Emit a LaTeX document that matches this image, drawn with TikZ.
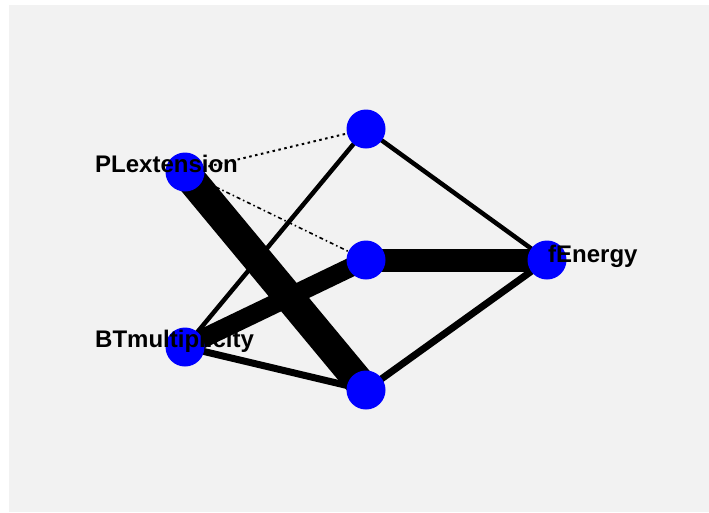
\documentclass[tikz,border=0pt]{standalone}
\usepackage{fontspec}
\setmainfont{Liberation Sans}
\pgfdeclarelayer{bglayer}
\pgfdeclarelayer{edgelayer}
\pgfsetlayers{bglayer,edgelayer,main}
\definecolor{panel}{HTML}{F2F2F2}
\definecolor{nodeblue}{HTML}{0000FF}
\tikzset{
  vtx/.style={circle, fill=nodeblue, draw=none, minimum size=39pt, inner sep=0pt},
  lbl/.style={anchor=base west, inner sep=0pt, font=\fontsize{24}{24}\selectfont\bfseries},
  edge/.style={draw=black, line cap=butt},
  dotline/.style={edge, line width=2pt, dash pattern=on 2.5pt off 3.5pt},
  dashdotline/.style={edge, line width=1.6pt, dash pattern=on 4pt off 3pt on 1.5pt off 3pt},
}
\begin{document}
\begin{tikzpicture}[x=1pt, y=-1pt]
\useasboundingbox (0,0) rectangle (709,512);
\begin{pgfonlayer}{bglayer}
  \fill[white] (0,0) rectangle (709,512);
  \fill[panel] (9,5) rectangle (709,512);
\end{pgfonlayer}
% vertices
\node[vtx] (pl) at (185,172) {};
\node[vtx] (top) at (366,129) {};
\node[vtx] (mid) at (366,260) {};
\node[vtx] (fe) at (547,260) {};
\node[vtx] (bt) at (185,347) {};
\node[vtx] (bot) at (366,390) {};
% edges
\begin{pgfonlayer}{edgelayer}
  \draw[dotline] (pl.center) -- (top.center);
  \draw[dashdotline] (pl.center) -- (mid.center);
  \draw[edge, line width=30pt] (pl.center) -- (bot.center);
  \draw[edge, line width=4.5pt] (bt.center) -- (top.center);
  \draw[edge, line width=19pt] (bt.center) -- (mid.center);
  \draw[edge, line width=7pt] (bt.center) -- (bot.center);
  \draw[edge, line width=4.5pt] (top.center) -- (fe.center);
  \draw[edge, line width=23pt] (mid.center) -- (fe.center);
  \draw[edge, line width=7pt] (bot.center) -- (fe.center);
\end{pgfonlayer}
% labels
\node[lbl] (plt) at (95,172) {PLextension};
\node[lbl] (btt) at (95,347) {BTmultiplicity};
\node[lbl] (fet) at (548,262) {fEnergy};
\end{tikzpicture}
\end{document}
